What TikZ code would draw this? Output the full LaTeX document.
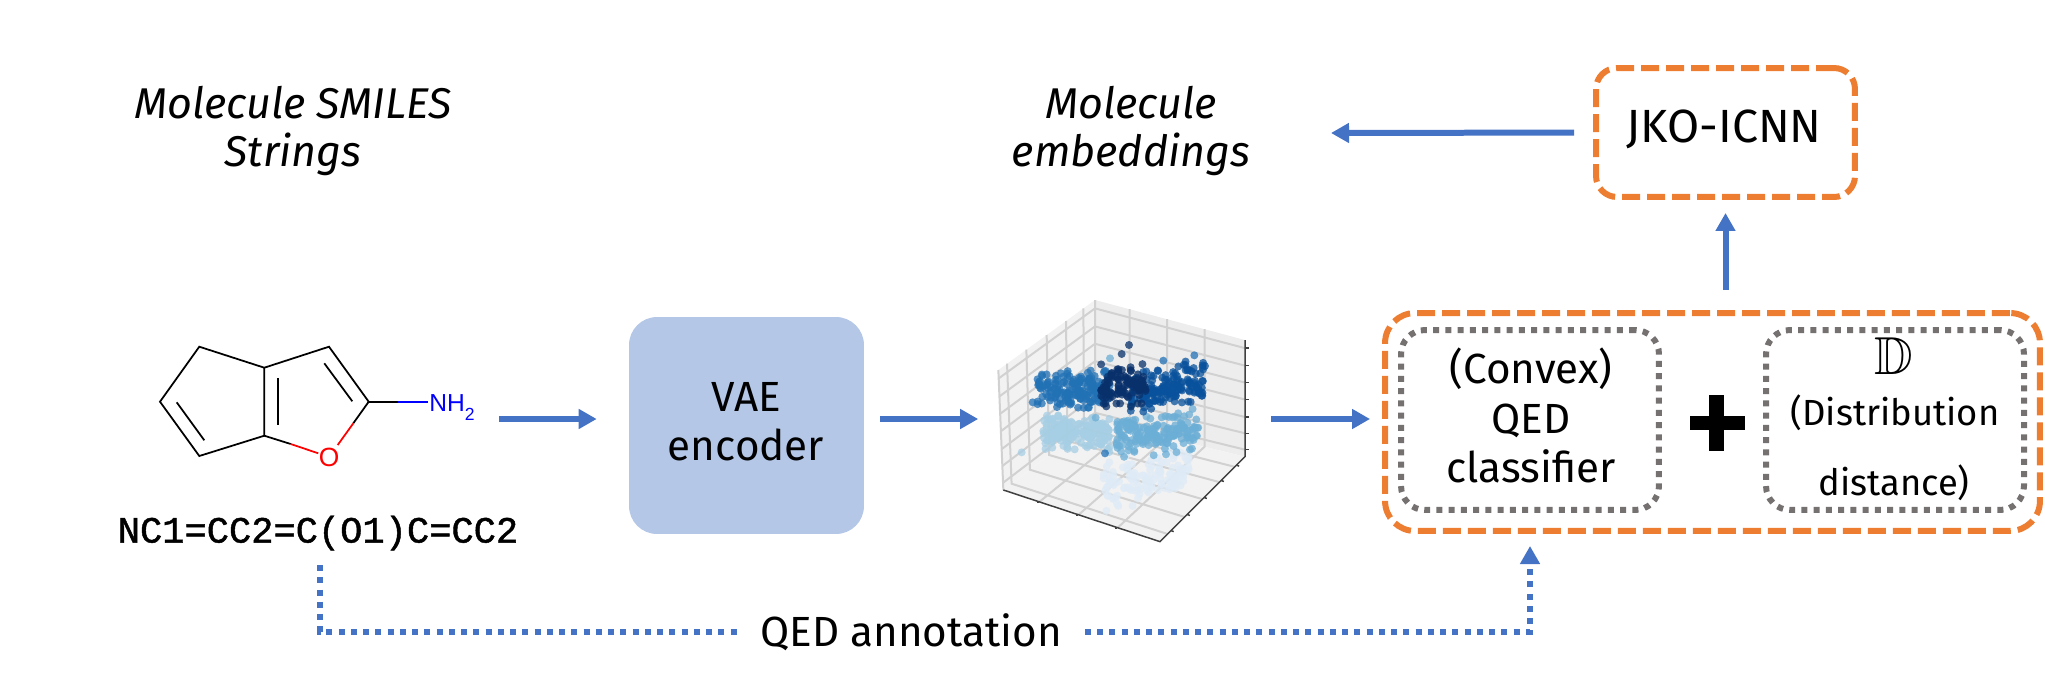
\documentclass[tikz,border=0pt]{standalone}
\usepackage{amssymb}
\usepackage{xcolor}
\usepackage{fontspec}
\setmainfont{Fira Sans}
\newfontfamily\smilesfont[FakeBold=1.2]{Liberation Mono}
\newfontfamily\atomfont{Liberation Sans}
\usetikzlibrary{arrows.meta,positioning,calc}
\definecolor{arrblue}{HTML}{4472C4}
\definecolor{boxorange}{HTML}{ED7D31}
\definecolor{boxgray}{HTML}{767171}
\definecolor{vaeblue}{HTML}{B4C7E7}
\definecolor{atomblue}{HTML}{0000FF}
\definecolor{atomred}{HTML}{FF0000}

\begin{document}
\begin{tikzpicture}[
  x=0.02cm, y=-0.02cm,
  font=\fontsize{24}{28}\selectfont,
  arr/.style={-{Triangle[length=.36cm,width=.38cm]}, line width=.12cm, arrblue},
  dotarr/.style={line width=.12cm, arrblue, dash pattern=on .12cm off .125cm},
  outerbox/.style={draw=boxorange, line width=.12cm, dash pattern=on .36cm off .14cm},
  innerbox/.style={draw=boxgray, line width=.12cm, dash pattern=on .12cm off .125cm, rounded corners=.48cm, minimum width=5.16cm, minimum height=3.6cm},
  lbl/.style={font=\fontsize{24.5}{27}\selectfont\itshape, align=center},
  txt/.style={align=center},
  small/.style={font=\fontsize{20.7}{24}\selectfont},
  bond/.style={line width=.035cm, black},
  grid3d/.style={line width=.04cm, black!18},
  axis3d/.style={line width=.03cm, black!75}
]
  \useasboundingbox (0,0) rectangle (2045,683);

  % Molecule
  \coordinate (a1) at (199.3,346.7);
  \coordinate (a2) at (160,401.7);
  \coordinate (a3) at (199.3,456);
  \coordinate (a4) at (264.3,435.7);
  \coordinate (a5) at (264.3,367.7);
  \coordinate (a6) at (329,346.7);
  \coordinate (a7) at (368.7,401.7);
  \draw[bond] (a7) -- (a6) -- (a5) -- (a1) -- (a2) -- (a3) -- (a4) -- (a5);
  \draw[bond] (176.7,402.3) -- (204.3,440.3);
  \draw[bond] (278,378.3) -- (278,425.3);
  \draw[bond] (324.3,363.3) -- (352.3,401.3);
  \draw[bond] (a4) -- (290.7,444);
  \draw[bond] (a7) -- (353.3,423.3);
  \draw[bond] (a7) -- (398.3,401.7);
  \draw[bond, atomred] (290.7,444) -- (318.3,453.3);
  \draw[bond, atomred] (353.3,423.3) -- (337.7,445);
  \draw[bond, atomblue] (398.3,401.7) -- (428.3,401.7);
  \node[text=atomred, font=\atomfont\fontsize{15}{15}\selectfont, inner sep=0] (oxy) at (329,457) {O};
  \node[text=atomblue, font=\atomfont\fontsize{14}{14}\selectfont, inner sep=0, anchor=base west] (amine) at (429,411) {NH\raisebox{-5.6pt}{\fontsize{10}{10}\selectfont 2}};
  \node[minimum width=6.36cm, minimum height=2.4cm] (mol) at (319,419) {};
  \node[font=\smilesfont\fontsize{21.1}{21}\selectfont] (smiles) at (318,533) {NC1=CC2=C(O1)C=CC2};

  % Titles
  \node[lbl] (moltitle) at (293,131) {Molecule SMILES\\Strings};
  \node[lbl] (embtitle) at (1131,131) {Molecule\\embeddings};

  % Encoder
  \node[fill=vaeblue, rounded corners=.56cm, minimum width=4.7cm, minimum height=4.34cm] (vae) at (746.5,425.5) {};
  \node[txt] (vaetxt) at (746,422) {VAE\\encoder};

  % Scatter plot
  \begin{scope}[shift={(960,290)}, x=0.00667cm, y=-0.00667cm]
    \coordinate (lt) at (115,240);
    \coordinate (lb) at (130,600);
    \coordinate (bt) at (405,30);
    \coordinate (bb) at (405,390);
    \coordinate (rt) at (855,150);
    \coordinate (rb) at (855,500);
    \coordinate (fr) at (600,755);
    \fill[black!5] (lt) -- (bt) -- (bb) -- (lb) -- cycle;
    \fill[black!7] (bt) -- (rt) -- (rb) -- (bb) -- cycle;
    \fill[black!5] (lb) -- (bb) -- (rb) -- (fr) -- cycle;
    \foreach \t in {.07,.22,.365,.51,.66,.8,.94} {
      \draw[grid3d] ($(lt)!\t!(lb)$) -- ($(bt)!\t!(bb)$) -- ($(rt)!\t!(rb)$);
    }
    \foreach \t in {.09,.29,.5,.7,.88} {
      \draw[grid3d] ($(lt)!\t!(bt)$) -- ($(lb)!\t!(bb)$) -- ($(fr)!\t!(rb)$);
    }
    \foreach \t in {.23,.48,.73} {
      \draw[grid3d] ($(bt)!\t!(rt)$) -- ($(bb)!\t!(rb)$) -- ($(lb)!\t!(fr)$);
    }
    \draw[grid3d] (lt) -- (lb) (bt) -- (bb);
    \pgfmathsetseed{11}
    \foreach \cx/\wx/\cy/\wy/\tilt/\num/\col in {
      560/130/560/85/-.25/130/DEEBF7,
      350/100/430/60/.05/160/A6CEE4,
      590/125/430/70/-.05/170/6BAED6,
      340/110/300/65/-.05/170/2171B5,
      620/110/290/70/-.15/170/08519C,
      490/70/290/80/0/100/08306B} {
      \definecolor{dotcol}{HTML}{\col}
      \foreach \i in {1,...,\num} {
        \pgfmathsetmacro{\px}{\cx+\wx*rand}
        \pgfmathsetmacro{\py}{\cy+\wy*(rand+rand)/2+\tilt*(\px-\cx)}
        \fill[dotcol, opacity=.75] (\px,\py) circle[radius=12];
      }
    }
    \foreach \px/\py/\col in {507/165/08306B, 485/192/08306B, 450/205/6BAED6, 610/212/2171B5, 703/196/2171B5, 735/228/08519C, 218/337/2171B5, 185/487/A6CEE4, 407/383/6BAED6, 435/490/2171B5} {
      \definecolor{dotcol}{HTML}{\col}
      \fill[dotcol, opacity=.75] (\px,\py) circle[radius=12];
    }
    \draw[axis3d] (lb) -- (fr) -- (rb) -- (rt);
    \foreach \t in {.07,.22,.365,.51,.66,.8,.94} {
      \draw[axis3d] ($(rt)!\t!(rb)$) -- +(12,0);
    }
    \foreach \t in {.22,.47,.72} {
      \draw[axis3d] ($(lb)!\t!(fr)$) -- +(0,6);
    }
    \foreach \t in {.13,.32,.52,.72,.9} {
      \draw[axis3d] ($(fr)!\t!(rb)$) -- +(8,3);
    }
  \end{scope}
  \node[minimum width=5.84cm, minimum height=2.4cm] (cloud) at (1124.5,419) {};

  % Objective
  \node[outerbox, rounded corners=.6cm, minimum width=13.1cm, minimum height=4.36cm] (objbox) at (1712.5,422) {};
  \node[innerbox] (convexbox) at (1530,420) {};
  \node[innerbox] (distbox) at (1895,420) {};
  \node[txt] (convex) at (1531,415.5) {(Convex)\\QED\\classifier};
  \node[font=\fontsize{30.4}{30}\selectfont, inner sep=0] (ddist) at (1894,356) {$\mathbb{D}$};
  \node[txt, small] (dist1) at (1895,413) {(Distribution};
  \node[txt, small] (dist2) at (1894,483) {distance)};
  \fill (1690,416) rectangle (1745,430);
  \fill (1709,395) rectangle (1724,451);

  % JKO step
  \node[outerbox, rounded corners=.42cm, minimum width=5.18cm, minimum height=2.58cm] (jko) at (1725.5,132.5) {};
  \node[font=\fontsize{26.5}{30}\selectfont] (jkotxt) at (1724,129) {JKO-ICNN};

  % Arrows
  \draw[arr, shorten <=.42cm, shorten >=.64cm] (mol.east) -- (mol.east -| vae.west);
  \draw[arr, shorten <=.32cm] (vae.east |- mol) -- (cloud.west);
  \draw[arr, shorten >=.24cm] (cloud.east) -- (cloud.east -| objbox.west);
  \draw[arr, shorten <=.4cm, shorten >=.26cm] (objbox.north -| jko) -- (jko.south);
  \coordinate (embend) at (1331,133);
  \draw[arr, shorten <=.38cm] (jko.west) -- (embend);

  % QED annotation
  \node (qed) at (911,632) {QED annotation};
  \coordinate (qedstart) at (320,565);
  \coordinate (qedend) at (1530,546);
  \draw[dotarr, shorten >=.26cm] (qedstart) |- (qed.west);
  \draw[dotarr, shorten <=.34cm, -{Triangle[length=.36cm,width=.38cm]}] (qed.east) -| (qedend);
\end{tikzpicture}
\end{document}
